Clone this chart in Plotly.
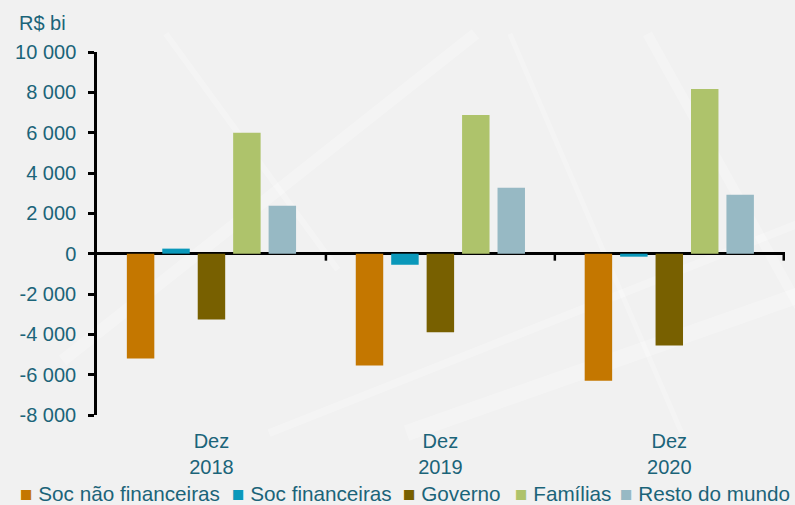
import plotly.graph_objects as go

# data (R$ bi)
categories = ["Dez<br>2018", "Dez<br>2019", "Dez<br>2020"]
soc_nao_financeiras = [-5200, -5550, -6300]
soc_financeiras = [250, -550, -150]
governo = [-3270, -3900, -4550]
familias = [6000, 6880, 8170]
resto_do_mundo = [2380, 3270, 2920]

series_names = ["Soc não financeiras", "Soc financeiras", "Governo", "Famílias", "Resto do mundo"]
series_colors = ["#C47700", "#0A98BA", "#786000", "#AEC36B", "#97B9C4"]

y_tickvals = [-8000, -6000, -4000, -2000, 0, 2000, 4000, 6000, 8000, 10000]
y_ticktext = ["-8 000", "-6 000", "-4 000", "-2 000", "0", "2 000", "4 000", "6 000", "8 000", "10 000"]

text_color = "#1B6479"
font_family = "Liberation Sans, Arial, sans-serif"

# plot area in pixels, used to place the paper-referenced texts
plot_left, plot_width = 97, 688
plot_top, plot_height = 52, 363

fig = go.Figure()

all_values = [soc_nao_financeiras, soc_financeiras, governo, familias, resto_do_mundo]
for name, values, color in zip(series_names, all_values, series_colors):
    fig.add_bar(x=categories, y=values, name=name, marker_color=color,
                marker_line_width=0, showlegend=False)

# faint diagonal streaks of the slide background
streaks = [((-0.05, 0.15), (0.55, 1.05), 12), ((0.25, -0.05), (1.05, 0.55), 8),
           ((0.45, -0.05), (1.05, 0.35), 16), ((0.60, 1.05), (0.85, -0.05), 5),
           ((0.10, 1.05), (0.35, 0.40), 6), ((0.80, 1.05), (1.02, 0.30), 10)]
for (xa, ya), (xb, yb), w in streaks:
    fig.add_shape(type="line", xref="paper", yref="paper", x0=xa, y0=ya, x1=xb, y1=yb,
                  line=dict(color="rgba(255,255,255,0.25)", width=w), layer="below")

# tick marks on the zero line between the groups
for i in range(len(categories)):
    fig.add_shape(type="line", xref="x", yref="y", x0=i + 0.5, x1=i + 0.5,
                  ysizemode="pixel", yanchor=0, y0=0, y1=-7,
                  line=dict(color="black", width=2.5), layer="above")

# legend drawn as text, one entry per series
legend_starts = [18, 230, 401, 513, 618]
legend_y = -(493 - (plot_top + plot_height)) / plot_height
for name, color, px in zip(series_names, series_colors, legend_starts):
    fig.add_annotation(text=f"<span style='color:{color}'>■</span>\u00a0{name}",
                       xref="paper", yref="paper",
                       x=(px - plot_left) / plot_width, y=legend_y,
                       xanchor="left", yanchor="middle", showarrow=False,
                       font=dict(size=20.7, color=text_color, family=font_family))

fig.add_annotation(text="R$ bi", xref="paper", yref="paper",
                   x=(42 - plot_left) / plot_width, y=1 + (plot_top - 23) / plot_height,
                   xanchor="center", yanchor="middle", showarrow=False,
                   font=dict(size=20, color=text_color, family=font_family))

fig.update_layout(
    width=795, height=505,
    margin=dict(l=plot_left, r=795 - plot_left - plot_width, t=plot_top,
                b=505 - plot_top - plot_height),
    paper_bgcolor="#F1F1F1",
    plot_bgcolor="rgba(0,0,0,0)",
    barmode="group",
    bargap=0.226,
    bargroupgap=0.225,
    font=dict(family=font_family, size=20, color=text_color),
)

fig.update_xaxes(showgrid=False, showline=False, ticks="", zeroline=False,
                 ticklabelstandoff=12, tickfont=dict(size=20, color=text_color))

fig.update_yaxes(range=[-8000, 10000], tickvals=y_tickvals, ticktext=y_ticktext,
                 showgrid=False, showline=True, linecolor="black", linewidth=2.5,
                 ticks="outside", ticklen=6, tickwidth=2.5, tickcolor="black",
                 zeroline=True, zerolinecolor="black", zerolinewidth=2.5,
                 ticklabelstandoff=8, tickfont=dict(size=20, color=text_color))

fig.write_html("out.html", config={"displayModeBar": False},
               post_script="document.body.style.margin='0';document.body.style.overflow='hidden';")
